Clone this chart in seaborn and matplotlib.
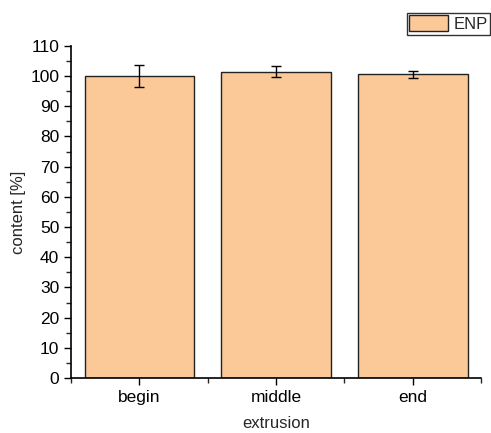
import matplotlib
matplotlib.use("Agg")
import matplotlib.pyplot as plt
import seaborn as sns
import pandas as pd
from matplotlib.ticker import MultipleLocator, FixedLocator
from matplotlib.patches import Patch

categories = ["begin", "middle", "end"]
values = [100.0, 101.5, 100.6]
errors = [3.6, 1.7, 1.2]

sns.set_style("ticks")
plt.rcParams["font.family"] = ["Liberation Sans", "DejaVu Sans"]

df = pd.DataFrame({"extrusion": categories, "content": values})
fig = plt.figure(figsize=(4.91, 4.33), dpi=100)
ax = fig.add_axes([0.1446, 0.127, 0.8354, 0.767])
color = "#FBC898"
sns.barplot(data=df, x="extrusion", y="content", color=color, width=0.8,
            edgecolor="#222222", linewidth=1.0, ax=ax, errorbar=None, saturation=1)
ax.errorbar(range(len(categories)), values, yerr=errors, fmt="none",
            ecolor="black", elinewidth=1.0, capsize=3.5, capthick=1.0)
ax.set_xlim(-0.5, 2.5)
ax.set_ylim(0, 110)
ax.yaxis.set_major_locator(MultipleLocator(10))
ax.yaxis.set_minor_locator(MultipleLocator(5))
ax.xaxis.set_minor_locator(FixedLocator([-0.5, 0.5, 1.5, 2.5]))
ax.tick_params(axis="both", which="major", direction="out", length=5, width=1, labelsize=12.5, colors="black")
ax.tick_params(axis="both", which="minor", direction="out", length=3.5, width=1)
for s in ["top", "right"]:
    ax.spines[s].set_visible(False)
for s in ["left", "bottom"]:
    ax.spines[s].set_linewidth(1.2)
    ax.spines[s].set_color("black")
ax.set_xlabel("extrusion", fontsize=12, labelpad=8)
ax.set_ylabel("content [%]", fontsize=12, labelpad=3)
leg = fig.legend(handles=[Patch(facecolor=color, edgecolor="#222222", label="ENP")],
                 loc="upper right", bbox_to_anchor=(0.998, 0.97), fontsize=12,
                 frameon=True, fancybox=False, edgecolor="black",
                 handlelength=2.35, handleheight=1.1, borderpad=0.15, handletextpad=0.3,
                 borderaxespad=0)
leg.get_frame().set_linewidth(1.0)
fig.savefig("out.png", dpi=100)
